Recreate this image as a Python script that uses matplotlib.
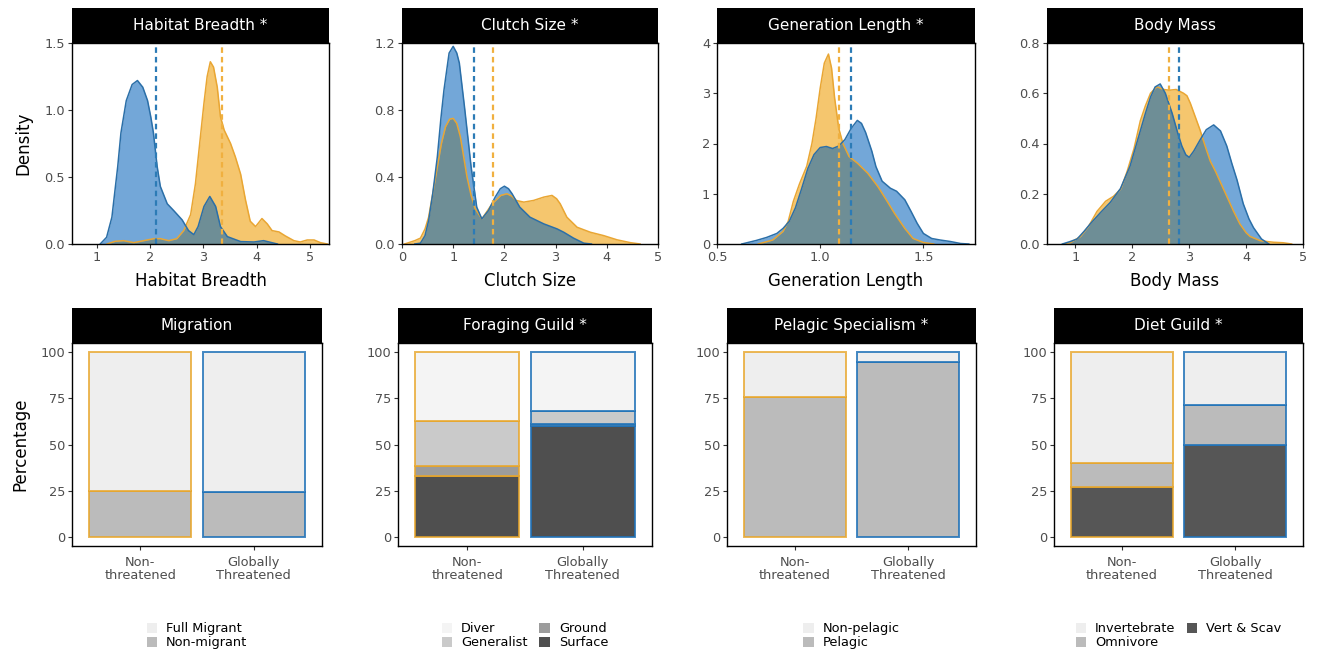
import matplotlib
matplotlib.use('Agg')
import matplotlib.pyplot as plt
from matplotlib.patches import Patch
import numpy as np

plt.rcParams['font.family'] = ['DejaVu Sans']

W, H = 1321, 653

# threat status groups
groups = ['Non-\nthreatened', 'Globally\nThreatened']
fill_nt, fill_gt = '#F2AE30', '#0060B8'
line_nt, line_gt = '#E9A633', '#2B6FA8'
dash_nt, dash_gt = '#F0B040', '#2C7BB6'

# density curves (x, density) for each trait, non-threatened and globally threatened
habitat_nt = [(1.19, 0.0), (1.34, 0.02), (1.50, 0.025), (1.69, 0.01), (1.88, 0.025), (2.07, 0.04),
              (2.19, 0.04), (2.35, 0.025), (2.50, 0.04), (2.63, 0.10), (2.76, 0.22), (2.85, 0.45),
              (2.93, 0.75), (3.01, 1.05), (3.07, 1.25), (3.13, 1.36), (3.19, 1.32), (3.26, 1.17),
              (3.32, 0.95), (3.39, 0.85), (3.51, 0.75), (3.60, 0.65), (3.70, 0.52), (3.79, 0.33),
              (3.88, 0.17), (3.98, 0.13), (4.10, 0.19), (4.20, 0.15), (4.29, 0.10), (4.42, 0.09),
              (4.54, 0.06), (4.70, 0.025), (4.82, 0.015), (4.95, 0.03), (5.08, 0.03), (5.20, 0.01),
              (5.33, 0.0)]
habitat_gt = [(1.06, 0.0), (1.18, 0.05), (1.28, 0.20), (1.39, 0.58), (1.45, 0.83), (1.55, 1.07),
              (1.66, 1.19), (1.76, 1.22), (1.86, 1.17), (1.95, 1.07), (2.01, 0.95), (2.06, 0.83),
              (2.13, 0.58), (2.19, 0.43), (2.32, 0.30), (2.44, 0.25), (2.60, 0.18), (2.72, 0.10),
              (2.82, 0.07), (2.90, 0.13), (3.01, 0.28), (3.12, 0.355), (3.23, 0.28), (3.32, 0.13),
              (3.45, 0.055), (3.70, 0.018), (3.95, 0.015), (4.13, 0.025), (4.39, 0.0)]
clutch_nt = [(0.05, 0.0), (0.10, 0.005), (0.25, 0.02), (0.36, 0.035), (0.45, 0.09), (0.52, 0.16),
             (0.60, 0.30), (0.69, 0.46), (0.77, 0.60), (0.85, 0.70), (0.93, 0.745), (1.00, 0.75),
             (1.07, 0.72), (1.14, 0.64), (1.20, 0.53), (1.27, 0.40), (1.35, 0.29), (1.43, 0.21),
             (1.56, 0.15), (1.65, 0.19), (1.76, 0.24), (1.93, 0.29), (2.05, 0.30), (2.15, 0.285),
             (2.23, 0.26), (2.38, 0.25), (2.57, 0.26), (2.77, 0.28), (2.93, 0.29), (3.02, 0.27),
             (3.09, 0.24), (3.22, 0.16), (3.42, 0.10), (3.68, 0.07), (3.94, 0.05), (4.20, 0.025),
             (4.46, 0.008), (4.65, 0.0)]
clutch_gt = [(0.25, 0.0), (0.36, 0.005), (0.45, 0.05), (0.52, 0.14), (0.60, 0.30), (0.69, 0.52),
             (0.76, 0.75), (0.82, 0.92), (0.92, 1.14), (1.00, 1.18), (1.07, 1.14), (1.12, 1.08),
             (1.22, 0.82), (1.30, 0.60), (1.35, 0.46), (1.46, 0.22), (1.56, 0.15), (1.69, 0.20),
             (1.82, 0.28), (1.92, 0.33), (2.00, 0.345), (2.08, 0.33), (2.15, 0.30), (2.30, 0.22),
             (2.50, 0.16), (2.77, 0.12), (3.03, 0.09), (3.16, 0.07), (3.35, 0.035), (3.55, 0.005),
             (3.70, 0.0)]
genlen_nt = [(0.70, 0.0), (0.77, 0.08), (0.82, 0.25), (0.845, 0.45), (0.87, 0.85), (0.90, 1.2),
             (0.935, 1.55), (0.96, 2.0), (0.98, 2.5), (1.00, 3.1), (1.02, 3.6), (1.04, 3.78),
             (1.055, 3.5), (1.07, 2.9), (1.09, 2.3), (1.11, 2.0), (1.14, 1.74), (1.18, 1.61),
             (1.23, 1.41), (1.28, 1.14), (1.32, 0.88), (1.36, 0.61), (1.41, 0.31), (1.45, 0.11),
             (1.50, 0.03), (1.55, 0.0)]
genlen_gt = [(0.62, 0.0), (0.69, 0.07), (0.74, 0.13), (0.79, 0.21), (0.82, 0.31), (0.85, 0.45),
             (0.88, 0.72), (0.91, 1.1), (0.94, 1.5), (0.97, 1.78), (1.00, 1.92), (1.03, 1.94),
             (1.06, 1.90), (1.09, 1.95), (1.12, 2.08), (1.15, 2.30), (1.18, 2.46), (1.20, 2.40),
             (1.22, 2.22), (1.25, 1.85), (1.27, 1.54), (1.30, 1.25), (1.34, 1.11), (1.37, 1.05),
             (1.41, 0.88), (1.44, 0.65), (1.47, 0.41), (1.50, 0.21), (1.54, 0.11), (1.58, 0.08),
             (1.63, 0.05), (1.68, 0.01), (1.72, 0.0)]
mass_nt = [(0.80, 0.0), (0.91, 0.005), (1.09, 0.03), (1.23, 0.07), (1.38, 0.13), (1.53, 0.17),
           (1.67, 0.19), (1.80, 0.22), (1.91, 0.29), (2.03, 0.38), (2.14, 0.49), (2.23, 0.55),
           (2.32, 0.60), (2.43, 0.626), (2.55, 0.615), (2.65, 0.612), (2.77, 0.615), (2.90, 0.60),
           (2.96, 0.59), (3.02, 0.56), (3.10, 0.51), (3.19, 0.454), (3.28, 0.39), (3.37, 0.33),
           (3.46, 0.29), (3.54, 0.25), (3.66, 0.19), (3.78, 0.13), (3.89, 0.08), (4.00, 0.045),
           (4.07, 0.03), (4.25, 0.013), (4.48, 0.007), (4.65, 0.005), (4.80, 0.0)]
mass_gt = [(0.77, 0.0), (0.91, 0.01), (1.03, 0.02), (1.15, 0.05), (1.26, 0.08), (1.44, 0.125),
           (1.61, 0.165), (1.79, 0.22), (1.96, 0.31), (2.05, 0.38), (2.14, 0.45), (2.23, 0.52),
           (2.32, 0.585), (2.40, 0.625), (2.49, 0.637), (2.58, 0.60), (2.70, 0.52), (2.80, 0.44),
           (2.87, 0.39), (2.94, 0.355), (3.00, 0.345), (3.08, 0.37), (3.19, 0.414), (3.30, 0.455),
           (3.43, 0.474), (3.55, 0.45), (3.66, 0.39), (3.75, 0.32), (3.84, 0.255), (3.95, 0.16),
           (4.05, 0.10), (4.13, 0.065), (4.27, 0.02), (4.40, 0.0)]

# group means (dashed lines)
habitat_means = [3.35, 2.11]
clutch_means = [1.77, 1.40]
genlen_means = [1.09, 1.15]
mass_means = [2.65, 2.82]

# categorical traits, levels listed top of stack first; percentages per group
migration_levels = ['Full Migrant', 'Non-migrant']
migration_nt = [75, 25]
migration_gt = [75.5, 24.5]
foraging_levels = ['Diver', 'Generalist', 'Ground', 'Surface']
foraging_nt = [37.5, 24, 5.5, 33]
foraging_gt = [32, 7, 1, 60]
pelagic_levels = ['Non-pelagic', 'Pelagic']
pelagic_nt = [24, 76]
pelagic_gt = [5.5, 94.5]
diet_levels = ['Invertebrate', 'Omnivore', 'Vert & Scav']
diet_nt = [60, 13, 27]
diet_gt = [28.5, 21.5, 50]

grey2 = ['#EEEEEE', '#BBBBBB']
grey3 = ['#EEEEEE', '#BBBBBB', '#565656']
grey4 = ['#F4F4F4', '#CACACA', '#9C9C9C', '#4F4F4F']

TICK_FS = 9.3
TITLE_FS = 12


def px_axes(fig, x0, y0, x1, y1, **kw):
    return fig.add_axes([x0 / W, 1 - y1 / H, (x1 - x0) / W, (y1 - y0) / H], **kw)


def style(ax):
    for s in ax.spines.values():
        s.set_color('black')
        s.set_linewidth(1.0)
    ax.tick_params(length=3, width=0.8, color='#333333', labelcolor='#4D4D4D',
                   labelsize=TICK_FS, pad=2)


def strip(fig, x0, x1, y1, title):
    sa = px_axes(fig, x0, y1 - 35, x1, y1)
    sa.set_facecolor('black')
    sa.set_xticks([])
    sa.set_yticks([])
    for s in sa.spines.values():
        s.set_visible(False)
    sa.text(0.5, 0.5, title, color='white', fontsize=11, ha='center', va='center',
            transform=sa.transAxes)


def density_panel(ax, nt, gt, means, xlim, ylim, xticks, yticks, yfmt, xlabel):
    for pts, fc, lc in [(nt, fill_nt, line_nt), (gt, fill_gt, line_gt)]:
        xs = np.array([p[0] for p in pts])
        ys = np.array([p[1] for p in pts])
        alpha = 0.7 if fc == fill_nt else 0.55
        ax.fill_between(xs, ys, color=fc, alpha=alpha, lw=0)
        ax.plot(xs, ys, color=lc, lw=1.1)
    ax.axvline(means[0], color=dash_nt, lw=1.6, ls=(0, (2.5, 1.8)))
    ax.axvline(means[1], color=dash_gt, lw=1.6, ls=(0, (2.5, 1.8)))
    ax.set_xlim(*xlim)
    ax.set_ylim(*ylim)
    ax.set_xticks(xticks)
    ax.set_yticks(yticks)
    ax.set_yticklabels([yfmt.format(v) for v in yticks])
    ax.set_xlabel(xlabel, fontsize=TITLE_FS, labelpad=6)
    style(ax)


def bar_panel(ax, levels, nt, gt, colors, ncol):
    edges = [(0.91, 0.65, 0.16, 0.8), (0.13, 0.45, 0.72, 0.85)]
    for i, vals in enumerate([nt, gt]):
        bottom = 0
        for lev, v, c in zip(levels[::-1], vals[::-1], colors[::-1]):
            ax.bar(i + 1, v, bottom=bottom, width=0.9, color=c, edgecolor=edges[i], lw=1.4)
            bottom += v
    ax.set_xlim(0.4, 2.6)
    ax.set_ylim(-5, 105)
    ax.set_xticks([1, 2])
    ax.set_xticklabels(groups, linespacing=1.0)
    ax.set_yticks([0, 25, 50, 75, 100])
    style(ax)
    ax.tick_params(axis='x', pad=4)
    handles = [Patch(facecolor=c, edgecolor='none', label=l) for l, c in zip(levels, colors)]
    ax.legend(handles=handles, ncol=ncol, loc='upper center', bbox_to_anchor=(0.5, -0.345),
              frameon=False, fontsize=9.3, handlelength=0.8, handleheight=0.8,
              handletextpad=0.7, labelspacing=0.05, columnspacing=0.9, borderpad=0)


fig = plt.figure(figsize=(W / 100, H / 100), dpi=100)

top = [(72, 329), (402, 658), (717, 975), (1047, 1303)]
bot = [(72, 322), (398, 652), (727, 976), (1054, 1303)]

dens = [
    ('Habitat Breadth *', habitat_nt, habitat_gt, habitat_means, (0.53, 5.36), (0, 1.5),
     [1, 2, 3, 4, 5], [0, 0.5, 1.0, 1.5], '{:.1f}', 'Habitat Breadth'),
    ('Clutch Size *', clutch_nt, clutch_gt, clutch_means, (0, 5), (0, 1.2),
     [0, 1, 2, 3, 4, 5], [0, 0.4, 0.8, 1.2], '{:.1f}', 'Clutch Size'),
    ('Generation Length *', genlen_nt, genlen_gt, genlen_means, (0.5, 1.75), (0, 4),
     [0.5, 1.0, 1.5], [0, 1, 2, 3, 4], '{:.0f}', 'Generation Length'),
    ('Body Mass', mass_nt, mass_gt, mass_means, (0.5, 5), (0, 0.8),
     [1, 2, 3, 4, 5], [0, 0.2, 0.4, 0.6, 0.8], '{:.1f}', 'Body Mass'),
]
for (x0, x1), (title, nt, gt, means, xl, yl, xt, yt, fmt, lab) in zip(top, dens):
    ax = px_axes(fig, x0, 43, x1, 244)
    density_panel(ax, nt, gt, means, xl, yl, xt, yt, fmt, lab)
    if xt[0] == 0.5:
        ax.set_xticklabels(['0.5', '1.0', '1.5'])
    strip(fig, x0, x1, 43, title)
    if x0 == 72:
        ax.set_ylabel('Density', fontsize=TITLE_FS, labelpad=9)

bars = [
    ('Migration', migration_levels, migration_nt, migration_gt, grey2, 1),
    ('Foraging Guild *', foraging_levels, foraging_nt, foraging_gt, grey4, 2),
    ('Pelagic Specialism *', pelagic_levels, pelagic_nt, pelagic_gt, grey2, 1),
    ('Diet Guild *', diet_levels, diet_nt, diet_gt, grey3, 2),
]
for (x0, x1), (title, levels, nt, gt, cols, ncol) in zip(bot, bars):
    ax = px_axes(fig, x0, 343, x1, 546)
    bar_panel(ax, levels, nt, gt, cols, ncol)
    strip(fig, x0, x1, 343, title)
    if x0 == 72:
        ax.set_ylabel('Percentage', fontsize=TITLE_FS, labelpad=8)

fig.savefig('out.png', dpi=100, facecolor='white')
